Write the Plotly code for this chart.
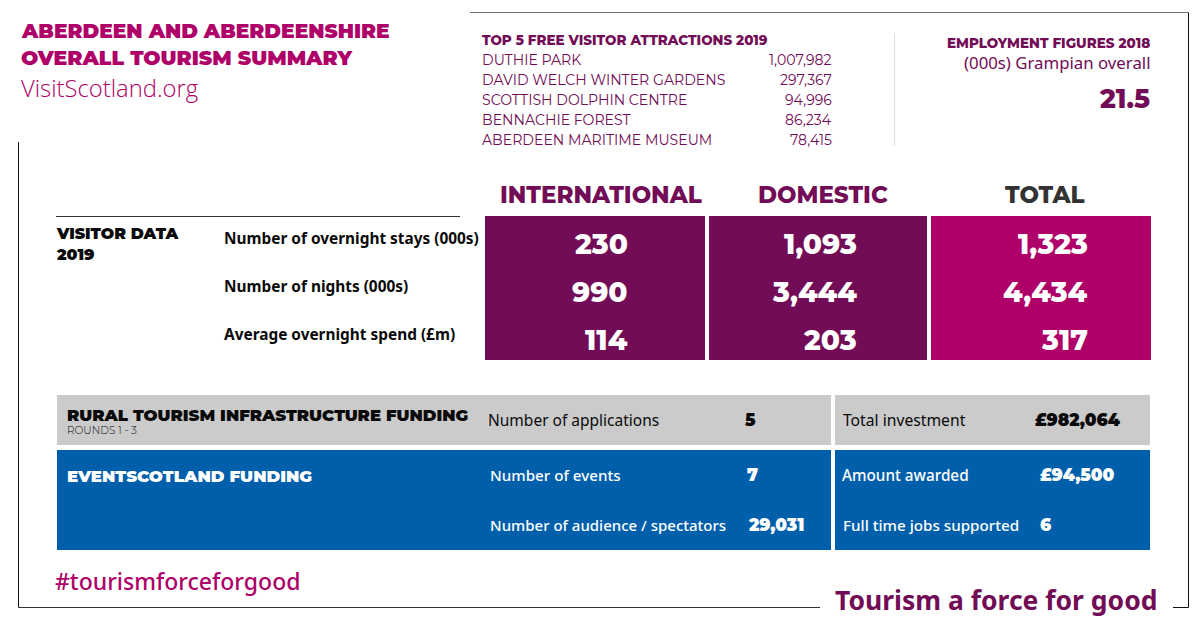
import plotly.graph_objects as go

# colours
PLUM = '#720c56'
MAGENTA = '#ae0068'
BLUE = '#005fab'
GREY = '#cbcbcb'
INK = '#0a0a0a'

# top 5 attractions
attractions = ['DUTHIE PARK', 'DAVID WELCH WINTER GARDENS', 'SCOTTISH DOLPHIN CENTRE',
               'BENNACHIE FOREST', 'ABERDEEN MARITIME MUSEUM']
attraction_visits = [1007982, 297367, 94996, 86234, 78415]

# visitor data
visitor_rows = ['Number of overnight stays (000s)', 'Number of nights (000s)', 'Average overnight spend (£m)']
visitor_cols = ['INTERNATIONAL', 'DOMESTIC', 'TOTAL']
international = [230, 990, 114]
domestic = [1093, 3444, 203]
total = [1323, 4434, 317]

employment = '21.5'

# funding
rural_labels = ['Number of applications', 'Total investment']
rural_values = ['5', '£982,064']
event_labels = ['Number of events', 'Number of audience / spectators', 'Amount awarded', 'Full time jobs supported']
event_values = ['7', '29,031', '£94,500', '6']

HEAD = 'Montserrat, Inter, sans-serif'
BODY = 'Noto Sans, sans-serif'

fig = go.Figure()


def txt(x, y, s, size, color, family=BODY, weight=400, anchor='left'):
    # annotations carry about 2px of padding, take it back out
    dx = {'left': -2, 'right': 2, 'center': 0}[anchor]
    fig.add_annotation(x=x + dx, y=y, text=s, showarrow=False, xanchor=anchor, yanchor='middle',
                       xref='x', yref='y', align=anchor,
                       font=dict(size=size, color=color, family=family, weight=weight))


def box(x0, y0, x1, y1, color):
    fig.add_shape(type='rect', x0=x0, y0=y0, x1=x1, y1=y1, fillcolor=color, line_width=0, layer='below')


def rule(x0, y0, x1, y1, color='#111111', width=1):
    fig.add_shape(type='line', x0=x0, y0=y0, x1=x1, y1=y1, line=dict(color=color, width=width))


# frame, on half pixels so the 1px lines stay crisp
rule(470, 12.5, 1188.5, 12.5, '#777777', 1)
rule(1188.5, 12.5, 1188.5, 607.5)
rule(18.5, 142, 18.5, 607.5)
rule(18.5, 607.5, 820, 607.5, '#333333')
rule(1173, 607.5, 1188.5, 607.5)
rule(56, 216.5, 460, 216.5, '#333333')
rule(894.5, 33, 894.5, 146, '#dddddd')

# heading
txt(21, 30, 'ABERDEEN AND ABERDEENSHIRE', 20.2, MAGENTA, HEAD, 900)
txt(21, 57, 'OVERALL TOURISM SUMMARY', 20.4, MAGENTA, HEAD, 900)
txt(21, 88, 'VisitScotland.org', 23.8, MAGENTA, 'Open Sans, sans-serif', 300)

# attractions
txt(482, 40, 'TOP 5 FREE VISITOR ATTRACTIONS 2019', 13.5, PLUM, HEAD, 800)
for i, name in enumerate(attractions):
    y = 60 + i * 20
    txt(482, y, name, 14.1, PLUM, HEAD, 400)
    txt(832, y, f'{attraction_visits[i]:,}', 14.1, PLUM, HEAD, 400, 'right')

# employment
txt(1150, 43, 'EMPLOYMENT FIGURES 2018', 13.5, PLUM, HEAD, 800, 'right')
txt(1150, 62, '(000s) Grampian overall', 16.8, PLUM, BODY, 400, 'right')
txt(1150, 98, employment, 26.5, PLUM, HEAD, 800, 'right')

# visitor table
box(485, 216, 705, 360, PLUM)
box(709, 216, 927, 360, PLUM)
box(931, 216, 1151, 360, MAGENTA)
txt(601, 195, visitor_cols[0], 23, PLUM, HEAD, 800, 'center')
txt(823, 195, visitor_cols[1], 23, PLUM, HEAD, 800, 'center')
txt(1045, 195, visitor_cols[2], 23, '#333333', HEAD, 800, 'center')
txt(56, 244, 'VISITOR DATA<br>2019', 15.8, INK, HEAD, 900)
for i, row in enumerate(visitor_rows):
    y = 244 + i * 48
    txt(224, y - 6, row, 15.4, INK, BODY, 700)
    txt(628, y - 0.5, f'{international[i]:,}', 28, 'white', HEAD, 800, 'right')
    txt(857, y - 0.5, f'{domestic[i]:,}', 28, 'white', HEAD, 800, 'right')
    txt(1088, y - 0.5, f'{total[i]:,}', 28, 'white', HEAD, 800, 'right')

# funding
box(57, 395, 831, 445, GREY)
box(835, 395, 1150, 445, GREY)
box(57, 450, 831, 550, BLUE)
box(835, 450, 1150, 550, BLUE)
txt(67, 415, 'RURAL TOURISM INFRASTRUCTURE FUNDING', 16.5, INK, HEAD, 900)
txt(67, 430, 'ROUNDS 1 - 3', 10.5, INK, HEAD, 300)
txt(488, 420, rural_labels[0], 15.5, INK)
txt(745, 420, rural_values[0], 17, INK, HEAD, 900)
txt(843, 420, rural_labels[1], 15.7, INK)
txt(1035, 420, rural_values[1], 17, INK, HEAD, 900)
txt(67, 476, 'EVENTSCOTLAND FUNDING', 16.6, 'white', HEAD, 900)
txt(490, 475, event_labels[0], 15.2, 'white', BODY, 500)
txt(747, 475, event_values[0], 17, 'white', HEAD, 900)
txt(490, 525, event_labels[1], 15, 'white', BODY, 500)
txt(748, 525, event_values[1], 17, 'white', HEAD, 900)
txt(842, 475, event_labels[2], 15.3, 'white', BODY, 500)
txt(1040, 475, event_values[2], 17, 'white', HEAD, 900)
txt(843, 525, event_labels[3], 15.2, 'white', BODY, 500)
txt(1040, 525, event_values[3], 17, 'white', HEAD, 900)

# footer
txt(55, 581, '#tourismforceforgood', 23, MAGENTA, BODY, 500)
txt(835, 600, 'Tourism a force for good', 26.5, PLUM, BODY, 700)

fig.update_xaxes(range=[0, 1200], visible=False, fixedrange=True)
fig.update_yaxes(range=[627, 0], visible=False, fixedrange=True)
fig.update_layout(width=1200, height=627, margin=dict(l=0, r=0, t=0, b=0),
                  paper_bgcolor='white', plot_bgcolor='white', showlegend=False)

# page body has a default margin, drop it so the picture starts at 0,0
fig.write_html('out.html', config={'displayModeBar': False},
               post_script='document.body.style.margin="0";')
